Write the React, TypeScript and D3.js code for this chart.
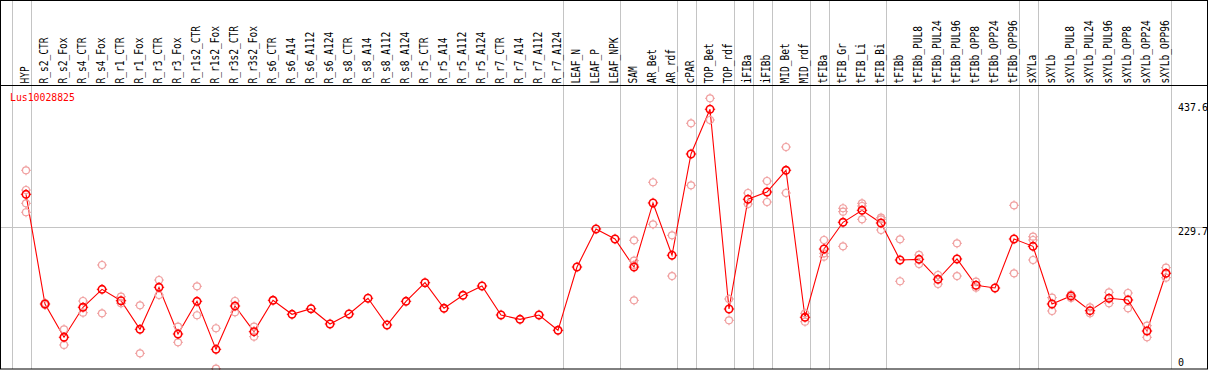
import React from 'react';
import * as d3 from 'd3';

const title = 'Lus10028825';

const groups: string[][] = [
  ['HYP'],
  ['R_s2_CTR', 'R_s2_Fox', 'R_s4_CTR', 'R_s4_Fox', 'R_r1_CTR', 'R_r1_Fox', 'R_r3_CTR', 'R_r3_Fox',
    'R_r1s2_CTR', 'R_r1s2_Fox', 'R_r3s2_CTR', 'R_r3s2_Fox', 'R_s6_CTR', 'R_s6_A14', 'R_s6_A112',
    'R_s6_A124', 'R_s8_CTR', 'R_s8_A14', 'R_s8_A112', 'R_s8_A124', 'R_r5_CTR', 'R_r5_A14',
    'R_r5_A112', 'R_r5_A124', 'R_r7_CTR', 'R_r7_A14', 'R_r7_A112', 'R_r7_A124'],
  ['LEAF_N', 'LEAF_P', 'LEAF_NPK'],
  ['SAM', 'AR_Bet', 'AR_rdf'],
  ['cPAR'],
  ['TOP_Bet', 'TOP_rdf'],
  ['iFIBa'],
  ['iFIBb'],
  ['MID_Bet', 'MID_rdf'],
  ['tFIBa'],
  ['tFIB_Gr', 'tFIB_Li', 'tFIB_Bi'],
  ['tFIBb', 'tFIBb_PUL8', 'tFIBb_PUL24', 'tFIBb_PUL96', 'tFIBb_OPP8', 'tFIBb_OPP24', 'tFIBb_OPP96'],
  ['sXYLa'],
  ['sXYLb', 'sXYLb_PUL8', 'sXYLb_PUL24', 'sXYLb_PUL96', 'sXYLb_OPP8', 'sXYLb_OPP24', 'sXYLb_OPP96'],
];

const categories = groups.flat();

// mean expression per sample
const means = [
  284.5,
  100.6, 44.8, 95.1, 125.2, 106.1, 58.2, 128.6, 50.3, 105.1, 24.6, 97.2, 54.2,
  106.8, 83.3, 92.7, 67.1, 83.8, 110.2, 65.4, 105.1, 136.3, 93.4, 115.2, 130.8,
  82.2, 74.9, 82.2, 56.5,
  162.6, 226.4, 209.6,
  162.6, 270.0, 182.3,
  352.1,
  427.1, 92.2,
  276.2,
  288.4,
  324.8, 78.3,
  192.8,
  237.6, 257.7, 236.4,
  174.4, 175.5, 142.0, 176.1, 132.0, 127.4, 209.6,
  197.3,
  100.6, 114.0, 89.4, 110.2, 107.3, 55.3, 152.1,
];

// individual replicates (empty = single sample)
const replicates: number[][] = [
  [324.8, 291.7, 269.4, 254.4],
  [102.3, 98.9], [58.2, 31.9], [105.6, 86.0], [166.0, 85.0], [112.8, 101.8], [98.4, 17.9],
  [140.8, 115.7], [62.5, 36.4], [130.3, 81.7], [59.9, -7.9], [105.6, 86.7], [62.5, 45.8],
  [], [], [], [], [], [], [], [], [], [], [], [], [], [], [], [],
  [], [], [],
  [207.4, 173.2, 166.0, 106.8], [304.7, 234.2], [215.8, 147.5],
  [403.6, 299.6],
  [445.5, 409.1], [109.0, 73.3],
  [286.7, 268.3],
  [306.8, 271.6],
  [363.8, 286.7], [85.0, 70.9],
  [207.9, 185.6, 179.9],
  [261.1, 255.4, 197.3], [269.4, 264.9, 242.6], [245.3, 242.6, 224.7],
  [209.1, 138.7], [182.8, 167.7], [149.2, 134.1], [202.4, 147.5], [138.0, 127.9], [], [266.1, 152.1],
  [213.4, 207.9, 174.4],
  [111.2, 88.9], [116.2, 110.7], [95.1, 85.0], [120.2, 101.8], [119.0, 93.4], [64.2, 44.8], [161.5, 144.7],
];

const yTicks = [0, 229.7, 437.6];
const refLine = 229.7;

const W = 1209;
const H = 370;
const right = 1207;
const headerY = 85.5;
const bottom = 369;

const font = '"DejaVu Sans Mono", monospace';

const Marker = ({ cx, cy, r, color, sw }: { cx: number; cy: number; r: number; color: string; sw: number }) => (
  <g stroke={color} strokeWidth={sw} fill="none">
    <circle cx={cx} cy={cy} r={r} />
    <line x1={cx} x2={cx} y1={cy - r - 1.5} y2={cy - r + 0.5} strokeWidth={1} />
    <line x1={cx} x2={cx} y1={cy + r - 0.5} y2={cy + r + 1.5} strokeWidth={1} />
    <line x1={cx - r - 1.5} x2={cx - r + 0.5} y1={cy} y2={cy} strokeWidth={1} />
    <line x1={cx + r - 0.5} x2={cx + r + 1.5} y1={cy} y2={cy} strokeWidth={1} />
  </g>
);

export default function App() {
  const x = d3.scalePoint<string>().domain(categories).range([26, 1166]);
  const y = d3.scaleLinear().domain([0, 437.6]).range([364, 103]);
  const step = x.step();

  // separators after the last column of each group, plus one before the first
  const seps = [x(categories[0])! - step + 4.5];
  groups.forEach((g) => seps.push(x(g[g.length - 1])! + 4.5));

  const line = d3
    .line<number>()
    .x((_, i) => x(categories[i])!)
    .y((d) => y(d));

  return (
    <svg width={W} height={H} style={{ position: 'absolute', left: 0, top: 0, background: '#fff' }}>
      <rect x={0} y={0} width={W} height={H} fill="#fff" />
      {seps.map((s, i) => (
        <line key={i} x1={Math.round(s) + 0.5} x2={Math.round(s) + 0.5} y1={0} y2={bottom} stroke="#c4c4c4" />
      ))}
      <line x1={0} x2={right} y1={Math.round(y(refLine)) + 0.5} y2={Math.round(y(refLine)) + 0.5} stroke="#c4c4c4" />

      {categories.map((c) => {
        const px = x(c)! + 3;
        return (
          <text
            key={c}
            transform={`translate(${px},83.5) rotate(-90)`}
            fontFamily={font}
            fontSize={12.5}
            textLength={c.length * 5.75}
            lengthAdjust="spacingAndGlyphs"
            fill="#000"
          >
            {c}
          </text>
        );
      })}

      <text x={10} y={101} fill="#ff0000" fontFamily={font} fontSize={10.5} textLength={title.length * 5.9} lengthAdjust="spacingAndGlyphs">
        {title}
      </text>

      {yTicks.map((t) => (
        <text key={t} x={1178} y={Math.min(y(t) + 8, 366)} fontFamily={font} fontSize={10} fill="#000">
          {t}
        </text>
      ))}

      <path d={line(means) || ''} fill="none" stroke="#ff0000" strokeWidth={1.1} />

      {replicates.map((reps, i) =>
        reps.map((v, j) => (
          <Marker key={`${i}-${j}`} cx={x(categories[i])!} cy={y(v)} r={3.5} color="#f0a0a0" sw={1.2} />
        ))
      )}
      {means.map((v, i) => (
        <Marker key={i} cx={x(categories[i])!} cy={y(v)} r={3.7} color="#ff0000" sw={1.6} />
      ))}

      <rect x={0.5} y={0.5} width={right} height={bottom - 0.5} fill="none" stroke="#000" />
      <line x1={0} x2={right + 1} y1={headerY} y2={headerY} stroke="#000" />
    </svg>
  );
}
